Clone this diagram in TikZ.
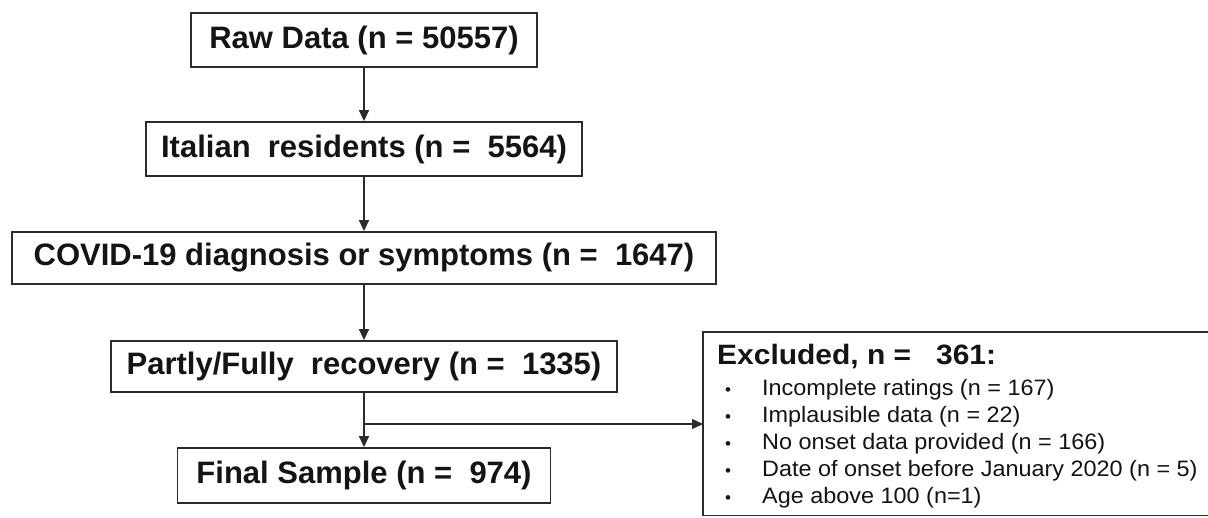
\documentclass[tikz,border=0pt]{standalone}
\usepackage{fontspec}
\setmainfont{Liberation Sans}
\newfontfamily\exhead[FakeStretch=1.07]{Liberation Sans}
\newfontfamily\exitem[FakeStretch=1.05]{Liberation Sans}
\usetikzlibrary{arrows.meta}
\definecolor{ink}{HTML}{141414}
\definecolor{edge}{HTML}{2B2B2B}
\begin{document}
\begin{tikzpicture}[x=1pt,y=-1pt,
  mainbox/.style={draw=edge, line width=1.8pt, inner sep=0pt, text=ink,
    font=\bfseries\fontsize{31}{37}\selectfont},
  flow/.style={draw=edge, line width=1.4pt, -{Triangle[length=11pt,width=10pt]}},
  exhd/.style={anchor=base west, inner sep=0pt, text=ink,
    font=\exhead\bfseries\fontsize{28}{32}\selectfont},
  exit/.style={anchor=base west, inner sep=0pt, text=ink,
    font=\exitem\fontsize{22.3}{27}\selectfont},
  bul/.style={anchor=base west, inner sep=0pt, text=ink,
    font=\fontsize{17}{20}\selectfont}]
\useasboundingbox (0,0) rectangle (1208,517);
\fill[white] (0,0) rectangle (1208,517);

\node[mainbox, minimum width=346pt, minimum height=54pt] (raw) at (364,40) {Raw Data (n = 50557)};
\node[mainbox, minimum width=436pt, minimum height=54pt] (ita) at (364,149) {Italian\ \ residents (n =\ \ 5564)};
\node[mainbox, minimum width=704pt, minimum height=52pt] (cov) at (364,258) {COVID-19 diagnosis or symptoms (n =\ \ 1647)};
\node[mainbox, minimum width=506pt, minimum height=51pt] (par) at (364,366.5) {Partly/Fully\ \ recovery (n =\ \ 1335)};
\node[mainbox, minimum width=373pt, minimum height=55pt] (fin) at (364,475.5) {Final Sample (n =\ \ 974)};

% excluded box: its right side lies beyond the picture's edge
\node[inner sep=0pt, minimum width=505pt, minimum height=183pt, anchor=north west] (excl) at (703,332) {};
\draw[edge, line width=1.3pt] (excl.north east) -- (excl.north west) -- (excl.south west) -- (excl.south east);
\node[exhd] (exh) at (717,364) {Excluded, n =\ \ \ 361:};
\foreach \i/\yy/\txt in {1/395/{Incomplete ratings (n = 167)},
                         2/422/{Implausible data (n = 22)},
                         3/449/{No onset data provided (n = 166)},
                         4/476/{Date of onset before January 2020 (n = 5)},
                         5/503/{Age above 100 (n=1)}}{
  \node[bul] (b\i) at (725,\yy) {•};
  \node[exit] (t\i) at (762,\yy) {\txt};
}

\draw[flow] (raw.south) -- (ita.north);
\draw[flow] (ita.south) -- (cov.north);
\draw[flow] (cov.south) -- (par.north);
\draw[flow] (par.south) -- (fin.north);
\coordinate (j) at (364,424);
\draw[flow] (j) -- (j -| excl.west);
\end{tikzpicture}
\end{document}
